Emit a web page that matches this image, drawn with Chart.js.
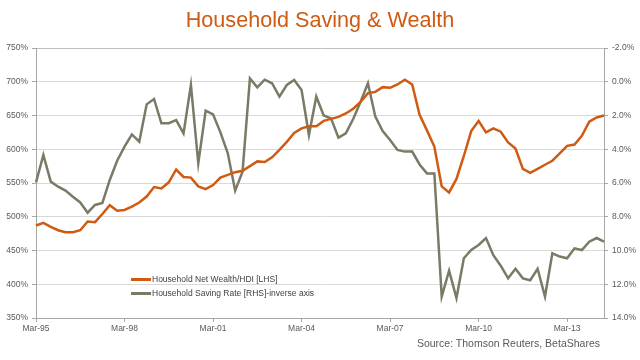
<!DOCTYPE html>
<html><head><meta charset="utf-8">
<script src="https://cdn.jsdelivr.net/npm/chart.js@4"></script>
<style>
html,body{margin:0;padding:0;background:#fff;}
#wrap{position:relative;width:640px;height:360px;overflow:hidden;font-family:"Liberation Sans",Arial,sans-serif;}
canvas{position:absolute;left:0;top:0;}
#title{position:absolute;left:0;top:8px;width:640px;text-align:center;font-size:21.6px;line-height:24px;color:#cf5b13;}
#legend{position:absolute;left:131px;top:272px;font-size:8.5px;color:#404040;}
.row{height:14px;display:flex;align-items:center;white-space:nowrap;}
.sw{width:20px;height:3px;margin-right:1px;}
#source{position:absolute;right:40px;top:337px;font-size:10.5px;color:#595959;white-space:nowrap;}
</style></head><body>
<div id="wrap">
<canvas id="c" width="640" height="360"></canvas>
<div id="title">Household Saving &amp; Wealth</div>
<div id="legend">
<div class="row"><span class="sw" id="sw1"></span><span id="lg1"></span></div>
<div class="row"><span class="sw" id="sw2"></span><span id="lg2"></span></div>
</div>
<div id="source">Source: Thomson Reuters, BetaShares</div>
</div>
<script>
const categories = [
"Mar-95","Jun-95","Sep-95","Dec-95","Mar-96","Jun-96","Sep-96","Dec-96",
"Mar-97","Jun-97","Sep-97","Dec-97","Mar-98","Jun-98","Sep-98","Dec-98",
"Mar-99","Jun-99","Sep-99","Dec-99","Mar-00","Jun-00","Sep-00","Dec-00",
"Mar-01","Jun-01","Sep-01","Dec-01","Mar-02","Jun-02","Sep-02","Dec-02",
"Mar-03","Jun-03","Sep-03","Dec-03","Mar-04","Jun-04","Sep-04","Dec-04",
"Mar-05","Jun-05","Sep-05","Dec-05","Mar-06","Jun-06","Sep-06","Dec-06",
"Mar-07","Jun-07","Sep-07","Dec-07","Mar-08","Jun-08","Sep-08","Dec-08",
"Mar-09","Jun-09","Sep-09","Dec-09","Mar-10","Jun-10","Sep-10","Dec-10",
"Mar-11","Jun-11","Sep-11","Dec-11","Mar-12","Jun-12","Sep-12","Dec-12",
"Mar-13","Jun-13","Sep-13","Dec-13","Mar-14","Jun-14"];

const wealthLabel = "Household Net Wealth/HDI [LHS]";
const savingLabel = "Household Saving Rate [RHS]-inverse axis";

// Household net wealth / HDI, % (left axis)
const wealth = [
487,491,485,480,477,477,480,493,
492,504,517,509,510,515,521,530,
544,542,551,570,559,558,545,541,
547,558,562,566,568,575,582,581,
588,599,611,624,631,634,634,642,
645,648,653,660,670,683,685,692,
691,696,703,696,651,628,604,545,
536,556,590,627,642,625,631,626,
610,601,571,565,571,577,583,594,
605,607,620,641,647,650];

// Household saving rate, % (right axis, inverted)
const saving = [
5.96,4.34,5.92,6.22,6.45,6.81,7.15,7.76,
7.30,7.18,5.82,4.68,3.85,3.12,3.55,1.34,
1.02,2.46,2.46,2.27,3.06,0.19,4.83,1.71,
1.93,3.00,4.24,6.45,5.33,-0.20,0.33,-0.12,
0.09,0.88,0.19,-0.10,0.49,3.16,0.88,2.00,
2.17,3.31,3.06,2.21,1.18,0.09,2.07,2.92,
3.45,4.04,4.14,4.14,4.90,5.43,5.43,12.73,
11.20,12.82,10.46,9.97,9.67,9.26,10.28,10.90,
11.65,11.08,11.65,11.76,11.08,12.73,10.17,10.36,
10.46,9.87,9.97,9.48,9.26,9.48];

const leftTicks = {min:350, max:750, step:50};
const rightTicks = {min:-2, max:14, step:2};

const ORANGE = "#cf5b13";
const GREY = "#7a7a66";
const AXIS = "#a6a6a6";
const GRID = "#d9d9d9";
const TXT = "#595959";
const FONT = "'Liberation Sans', Arial, sans-serif";

document.getElementById('sw1').style.background = ORANGE;
document.getElementById('sw2').style.background = GREY;
document.getElementById('lg1').textContent = wealthLabel;
document.getElementById('lg2').textContent = savingLabel;

new Chart(document.getElementById('c'), {
  type: 'line',
  data: {
    labels: categories,
    datasets: [
      {label: wealthLabel, data: wealth, yAxisID: 'y', borderColor: ORANGE, backgroundColor: ORANGE,
       borderWidth: 2.5, pointRadius: 0, tension: 0, fill: false},
      {label: savingLabel, data: saving, yAxisID: 'y1', borderColor: GREY, backgroundColor: GREY,
       borderWidth: 2.5, pointRadius: 0, tension: 0, fill: false}
    ]
  },
  options: {
    responsive: false,
    animation: false,
    devicePixelRatio: 1,
    layout: {padding: {top: 48, bottom: 0, left: 0, right: 0}},
    plugins: {legend: {display: false}, tooltip: {enabled: false}, title: {display: false}},
    scales: {
      x: {
        type: 'category',
        offset: false,
        afterFit: s => { s.height = 42; },
        grid: {display: true, drawOnChartArea: false, tickLength: 4,
               color: c => (c.index % 12 === 0 ? AXIS : 'rgba(0,0,0,0)')},
        border: {color: AXIS, width: 1},
        ticks: {autoSkip: false, maxRotation: 0, minRotation: 0, padding: 2,
                color: TXT, font: {family: FONT, size: 8.5},
                callback: (v, i) => (i % 12 === 0 ? categories[i] : '')}
      },
      y: {
        position: 'left',
        min: leftTicks.min, max: leftTicks.max,
        afterFit: s => { s.width = 36; },
        grid: {color: c => (c.tick && c.tick.value === leftTicks.max ? '#bfbfbf' : GRID),
               tickColor: AXIS, tickLength: 4},
        border: {color: AXIS, width: 1},
        ticks: {stepSize: leftTicks.step, padding: 4, color: TXT, font: {family: FONT, size: 8.5},
                callback: v => v + '%'}
      },
      y1: {
        position: 'right',
        reverse: true,
        min: rightTicks.min, max: rightTicks.max,
        afterFit: s => { s.width = 36; },
        grid: {drawOnChartArea: false, tickColor: AXIS, tickLength: 4},
        border: {color: AXIS, width: 1},
        ticks: {stepSize: rightTicks.step, padding: 4, color: TXT, font: {family: FONT, size: 8.5},
                callback: v => Number(v).toFixed(1) + '%'}
      }
    }
  }
});
</script>
</body></html>
